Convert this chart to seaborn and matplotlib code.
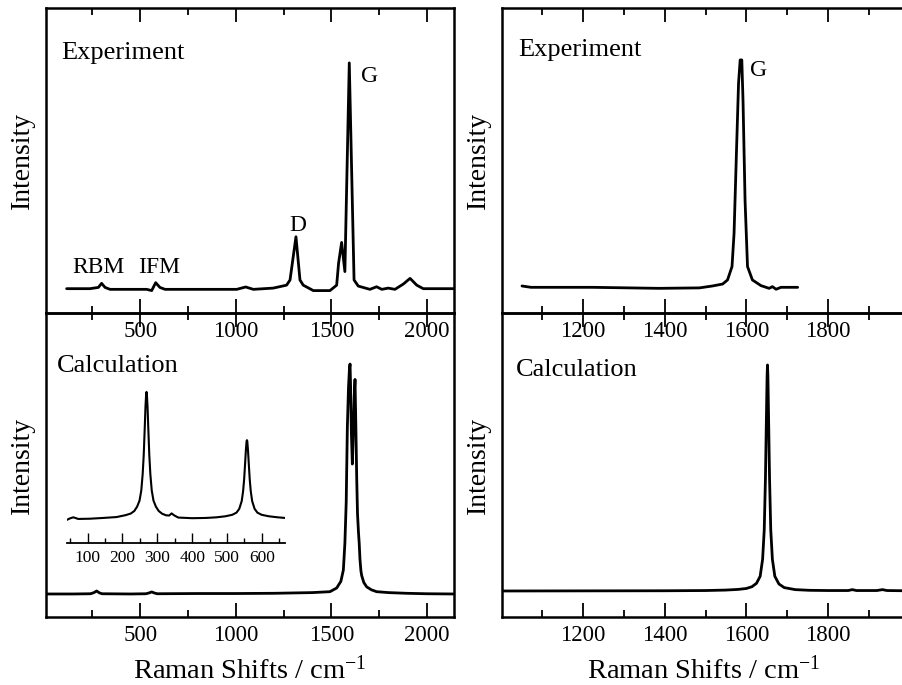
# -------------------------------
# Raman spectra: experiment vs. calculation
# -------------------------------

import matplotlib
matplotlib.use("Agg")
import matplotlib.pyplot as plt
from matplotlib.ticker import MultipleLocator, NullLocator
import seaborn as sns

# -------------------------------
# Step 1: Data (intensity in arb. units)
# -------------------------------
# full range, experiment
exp_full_x = [115, 237, 281, 298, 316, 342, 534, 560, 581, 603, 630, 848, 1005, 1052, 1092,
              1196, 1266, 1284, 1315, 1336, 1353, 1406, 1493, 1528, 1538, 1554, 1571, 1594,
              1619, 1641, 1702, 1737, 1764, 1798, 1833, 1877, 1912, 1947, 1981, 2138]
exp_full_y = [0.15, 0.15, 0.7, 2.5, 0.7, -0.15, -0.15, -0.7, 2.8, 0.7, -0.15, -0.15, -0.15, 0.9, -0.15,
              0.4, 1.7, 4.0, 23.1, 4.0, 1.7, -0.7, -0.7, 1.7, 11.4, 20.6, 7.7, 100,
              4.0, 1.3, -0.15, 1.0, -0.15, 0.4, -0.15, 2.2, 4.7, 1.7, 0.15, 0.15]

# full range, calculation
calc_full_x = [10, 150, 240, 258, 272, 286, 300, 450, 530, 548, 560, 575, 590, 800, 1000, 1200,
               1400, 1493, 1528, 1550, 1563, 1571, 1578, 1584, 1590, 1595, 1598, 1601, 1605,
               1610, 1615, 1620, 1624, 1628, 1633, 1637, 1642, 1646, 1650, 1655, 1659, 1670,
               1685, 1710, 1737, 1800, 1894, 2000, 2140]
calc_full_y = [0, 0, 0.1, 0.6, 1.3, 0.5, 0.1, 0, 0.1, 0.5, 0.9, 0.4, 0.1, 0.2, 0.2, 0.3,
               0.6, 1.0, 2.6, 5.5, 10.4, 22, 40, 72.8, 90, 98, 100, 90, 70,
               56.5, 70, 86, 93.3, 75, 50, 35, 27, 22, 15, 10, 8, 5,
               3.1, 1.8, 1.0, 0.6, 0.3, 0.1, 0]

# inset, calculation at low frequency
inset_x = [40, 50, 59, 66, 73, 90, 107, 145, 183, 209, 224, 234, 242, 249, 254, 258, 261, 264,
           266, 268, 269, 270, 272, 274, 277, 280, 284, 289, 296, 304, 314, 325, 334, 341, 348,
           360, 400, 440, 470, 495, 515, 527, 535, 542, 546, 549, 552, 554, 556, 557, 558, 560,
           562, 565, 568, 572, 579, 587, 599, 620, 645, 666]
inset_y = [-1.3, 0.0, 0.8, 0.2, -0.5, -0.4, -0.3, 0.3, 1.0, 2.5, 3.8, 5.8, 9.2, 14, 22, 35, 50, 72,
           88, 98.5, 100, 98.5, 88, 72, 50, 35, 22, 14, 9.2, 5.8, 3.6, 2.4, 2.2, 3.9, 2.4,
           0.6, 0.1, 0.3, 0.8, 1.6, 2.8, 4.5, 7.5, 13.6, 21.4, 30.9, 44.5, 54, 61, 61.8, 61, 54,
           44.5, 30.9, 21.4, 13.6, 7.5, 4.5, 2.8, 1.6, 0.8, 0.3]

# G band region, experiment
exp_g_x = [1050, 1072, 1223, 1386, 1485, 1517, 1542, 1554, 1565, 1570, 1576, 1581, 1585, 1589,
           1592, 1597, 1603, 1615, 1636, 1656, 1664, 1673, 1685, 1726]
exp_g_y = [0.44, -0.15, -0.15, -0.6, -0.4, 0.44, 1.3, 3.1, 9, 23.6, 60, 89.7, 100, 100,
           82, 38, 9, 3.1, 0.6, -0.6, 0.15, -1, -0.15, -0.15]

# G band region, calculation
calc_g_x = [1002, 1200, 1400, 1500, 1549, 1580, 1600, 1614, 1625, 1634, 1640, 1644, 1647, 1649,
            1651, 1652, 1653, 1655, 1657, 1660, 1664, 1670, 1680, 1693, 1720, 1755, 1800, 1850,
            1860, 1870, 1920, 1934, 1945, 1990]
calc_g_y = [0, 0.05, 0.1, 0.2, 0.4, 0.7, 1.1, 1.9, 3.4, 6.5, 14, 27, 50, 73,
            95, 100, 95, 73, 50, 27, 14, 6.5, 3.1, 1.5, 0.6, 0.3, 0.2, 0.2,
            0.6, 0.2, 0.2, 0.6, 0.2, 0.1]

# -------------------------------
# Step 2: Style
# -------------------------------
sns.set_theme(style="ticks")
plt.rcParams["font.family"] = ["Liberation Serif", "DejaVu Serif"]
plt.rcParams["mathtext.fontset"] = "custom"
plt.rcParams["mathtext.rm"] = "Liberation Serif"
plt.rcParams["mathtext.it"] = "Liberation Serif:italic"
plt.rcParams["text.color"] = "black"
plt.rcParams["axes.edgecolor"] = "black"
plt.rcParams["xtick.color"] = "black"
plt.rcParams["axes.labelcolor"] = "black"

fig = plt.figure(figsize=(9.02, 6.85), dpi=100)
ax_tl = fig.add_axes([0.0510, 0.5431, 0.4519, 0.4453])
ax_bl = fig.add_axes([0.0510, 0.0993, 0.4519, 0.4438])
# right panels run past the figure edge (cut off like the original)
ax_tr = fig.add_axes([0.5570, 0.5431, 0.4467, 0.4453])
ax_br = fig.add_axes([0.5570, 0.0993, 0.4467, 0.4438])
ax_in = fig.add_axes([0.0739, 0.2077, 0.2420, 0.2302])

line_kw = dict(color="black", linewidth=2.0, errorbar=None)


def style_panel(ax, xlim, ylim, major, minor):
    ax.set_xlim(xlim)
    ax.set_ylim(ylim)
    ax.set_facecolor("none")
    ax.xaxis.set_major_locator(MultipleLocator(major))
    ax.xaxis.set_minor_locator(MultipleLocator(minor))
    ax.yaxis.set_major_locator(NullLocator())
    ax.tick_params(axis="x", which="both", direction="in", top=True, bottom=True,
                   width=1.3, labelsize=16.5, pad=6)
    ax.tick_params(axis="x", which="major", length=10)
    ax.tick_params(axis="x", which="minor", length=5)
    for s in ax.spines.values():
        s.set_linewidth(1.8)
    ax.set_ylabel("Intensity", fontsize=20, labelpad=8)
    ax.set_xlabel("")


# -------------------------------
# Step 3: Plot panels
# -------------------------------
sns.lineplot(x=exp_full_x, y=exp_full_y, ax=ax_tl, **line_kw)
sns.lineplot(x=calc_full_x, y=calc_full_y, ax=ax_bl, **line_kw)
sns.lineplot(x=exp_g_x, y=exp_g_y, ax=ax_tr, **line_kw)
sns.lineplot(x=calc_g_x, y=calc_g_y, ax=ax_br, **line_kw)

style_panel(ax_tl, (7, 2140), (-10.6, 124.3), 500, 250)
style_panel(ax_bl, (7, 2140), (-10.0, 122.2), 500, 250)
style_panel(ax_tr, (1002, 1990), (-11.45, 122.9), 200, 100)
style_panel(ax_br, (1002, 1990), (-11.5, 123.0), 200, 100)

ax_bl.set_xlabel("Raman Shifts / cm$^{-1}$", fontsize=20.5, labelpad=7)
ax_br.set_xlabel("Raman Shifts / cm$^{-1}$", fontsize=20.5, labelpad=7)

# labels inside the panels
ax_tl.text(0.0385, 0.832, "Experiment", transform=ax_tl.transAxes, fontsize=19, va="baseline")
ax_tl.text(0.772, 0.758, "G", transform=ax_tl.transAxes, fontsize=17, va="baseline")
ax_tl.text(0.6175, 0.269, "D", transform=ax_tl.transAxes, fontsize=17, va="baseline", ha="center")
ax_tl.text(0.0655, 0.130, "RBM", transform=ax_tl.transAxes, fontsize=17, va="baseline")
ax_tl.text(0.225, 0.130, "IFM", transform=ax_tl.transAxes, fontsize=17, va="baseline")
ax_bl.text(0.026, 0.807, "Calculation", transform=ax_bl.transAxes, fontsize=19, va="baseline")
ax_tr.text(0.039, 0.843, "Experiment", transform=ax_tr.transAxes, fontsize=19, va="baseline")
ax_tr.text(0.614, 0.777, "G", transform=ax_tr.transAxes, fontsize=17, va="baseline")
ax_br.text(0.0333, 0.793, "Calculation", transform=ax_br.transAxes, fontsize=19, va="baseline")

# -------------------------------
# Step 4: Inset (low frequency part of the calculation)
# -------------------------------
sns.lineplot(x=inset_x, y=inset_y, ax=ax_in, color="black", linewidth=1.5, errorbar=None)
ax_in.set_xlim(40, 666)
ax_in.set_ylim(-19.3, 105.4)
ax_in.set_facecolor("none")
for side in ["top", "left", "right"]:
    ax_in.spines[side].set_visible(False)
ax_in.spines["bottom"].set_linewidth(1.3)
ax_in.xaxis.set_major_locator(MultipleLocator(100))
ax_in.xaxis.set_minor_locator(MultipleLocator(50))
ax_in.yaxis.set_major_locator(NullLocator())
ax_in.tick_params(axis="x", which="both", direction="in", width=1.0, labelsize=12.5, pad=5)
ax_in.tick_params(axis="x", which="major", length=7)
ax_in.tick_params(axis="x", which="minor", length=3.5)
ax_in.set_xlabel("")
ax_in.set_ylabel("")

fig.savefig("out.png", dpi=100)
